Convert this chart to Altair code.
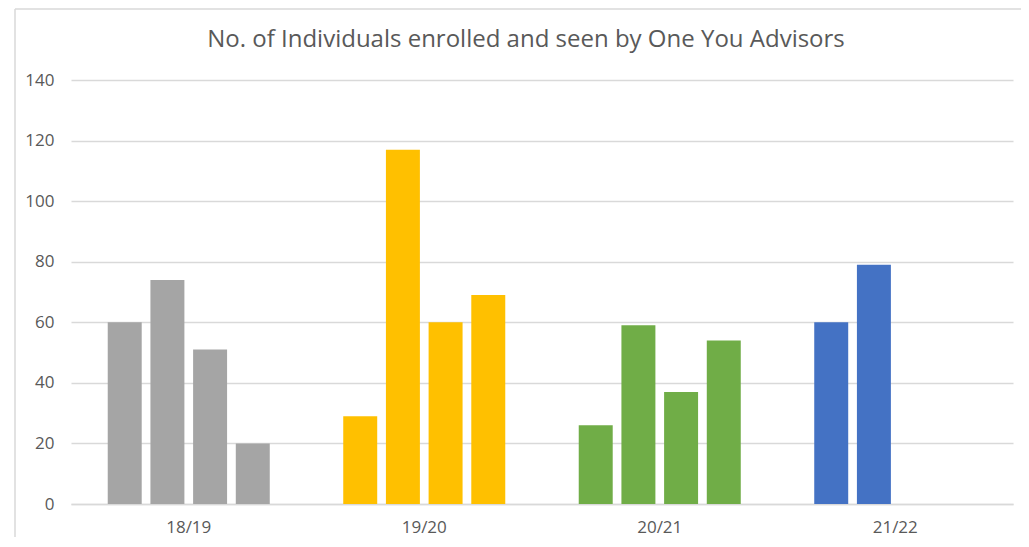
import altair as alt
import pandas as pd

years = ["18/19", "19/20", "20/21", "21/22"]
quarters = ["Q1", "Q2", "Q3", "Q4"]
v1819 = [60, 74, 51, 20]
v1920 = [29, 117, 60, 69]
v2021 = [26, 59, 37, 54]
v2122 = [60, 79, None, None]
colors = ["#A5A5A5", "#FFC000", "#70AD47", "#4472C4"]
y_ticks = [0, 20, 40, 60, 80, 100, 120, 140]
title_text = "No. of Individuals enrolled and seen by One You Advisors"

rows = []
for yr, vals in zip(years, [v1819, v1920, v2021, v2122]):
    for q, v in zip(quarters, vals):
        if v is not None:
            rows.append({"year": yr, "quarter": q, "value": v})
df = pd.DataFrame(rows)

W, H = 942, 424
FONT = "Open Sans"

bars = alt.Chart(df).mark_bar().encode(
    x=alt.X("year:N", sort=years,
            scale=alt.Scale(domain=years, paddingInner=0.312, paddingOuter=0.156),
            axis=alt.Axis(title=None, labelAngle=0, ticks=False, tickSize=0,
                          domainColor="#D9D9D9", domainWidth=1.3,
                          labelPadding=15, labelFontSize=17, labelFont=FONT,
                          labelColor="#595959", grid=False)),
    xOffset=alt.XOffset("quarter:N", sort=quarters,
                        scale=alt.Scale(domain=quarters, paddingInner=0.204, paddingOuter=0)),
    y=alt.Y("value:Q", scale=alt.Scale(domain=[0, 140], nice=False),
            axis=alt.Axis(title=None, values=y_ticks, domain=False, ticks=False, tickSize=0,
                          labelPadding=17, labelFontSize=17, labelFont=FONT,
                          labelColor="#595959", gridColor="#D9D9D9", gridWidth=1.3)),
    color=alt.Color("year:N", scale=alt.Scale(domain=years, range=colors), legend=None),
)

frame = pd.DataFrame({"k": [0]})
left_border = alt.Chart(frame).mark_rule(color="#D9D9D9", strokeWidth=1.5).encode(
    x=alt.value(-56), y=alt.value(-71), y2=alt.value(460))
top_border = alt.Chart(frame).mark_rule(color="#D9D9D9", strokeWidth=1.5).encode(
    x=alt.value(-56), x2=alt.value(960), y=alt.value(-71))

chart = alt.layer(bars, left_border, top_border).properties(
    width=W, height=H,
    autosize=alt.AutoSizeParams(type="none"),
    padding={"left": 63, "top": 72, "right": 8, "bottom": 33},
    title=alt.TitleParams(title_text, font=FONT, fontSize=24, fontWeight="normal",
                          color="#595959", anchor="middle", dx=-16, offset=-44),
).configure_view(stroke=None)

chart.save("out.html", embed_options={"renderer": "svg", "actions": False})
